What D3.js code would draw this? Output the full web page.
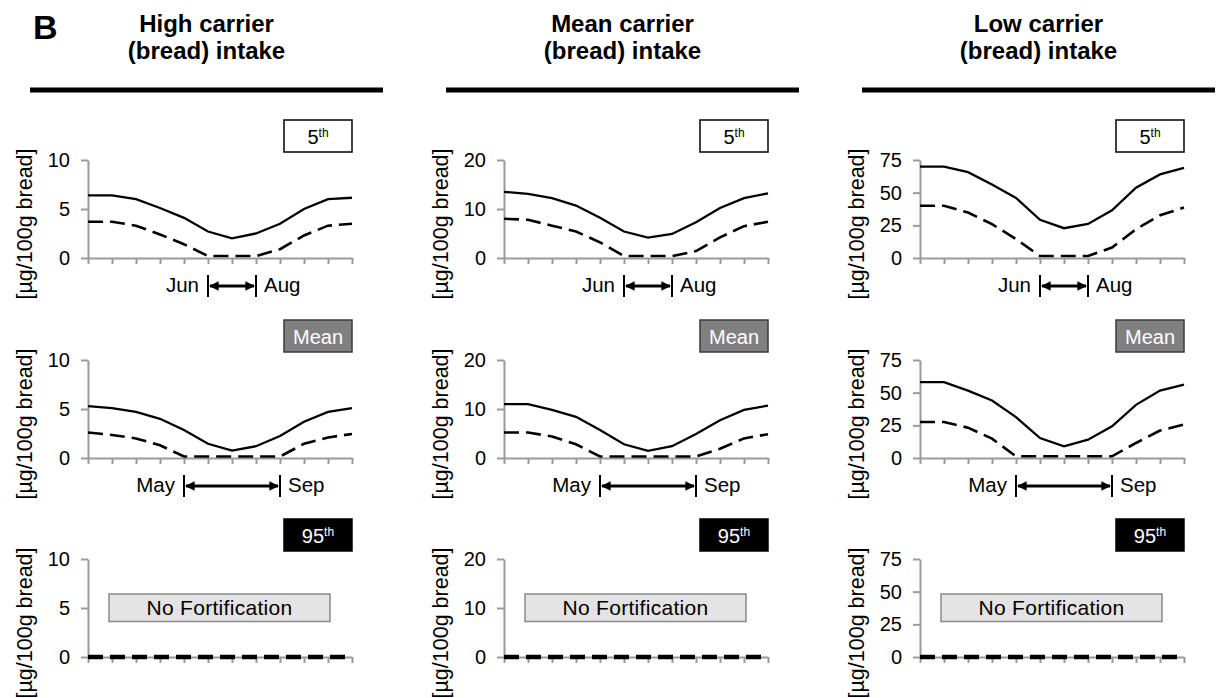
<!DOCTYPE html>
<html>
<head>
<meta charset="utf-8">
<script src="https://d3js.org/d3.v7.min.js"></script>
<style>
  body { margin: 0; background: #fff; }
  svg { display: block; font-family: "Liberation Sans", Arial, sans-serif; }
</style>
</head>
<body>
<div id="chart"></div>
<script>
// months on the x axis
const months = ['Jan', 'Feb', 'Mar', 'Apr', 'May', 'Jun', 'Jul', 'Aug', 'Sep', 'Oct', 'Nov', 'Dec'];

const columnTitles = [['High carrier', '(bread) intake'], ['Mean carrier', '(bread) intake'], ['Low carrier', '(bread) intake']];
const rowLabels = ['5th', 'Mean', '95th'];
const yMax = [10, 20, 75];
const yTicks = [[0, 5, 10], [0, 10, 20], [0, 25, 50, 75]];
const fortWindows = [['Jun', 'Aug'], ['May', 'Sep'], null];

// high carrier intake
const high5Solid = [6.4, 6.4, 6.0, 5.1, 4.1, 2.7, 2.0, 2.5, 3.5, 5.0, 6.0, 6.15];
const high5Dashed = [3.7, 3.7, 3.3, 2.4, 1.4, 0.2, 0.2, 0.2, 0.9, 2.3, 3.3, 3.5];
const highMeanSolid = [5.3, 5.1, 4.7, 4.0, 2.85, 1.45, 0.75, 1.2, 2.25, 3.7, 4.7, 5.1];
const highMeanDashed = [2.6, 2.35, 2.0, 1.3, 0.15, 0.15, 0.15, 0.15, 0.15, 1.45, 2.1, 2.45];
// mean carrier intake
const mean5Solid = [13.5, 13.1, 12.2, 10.7, 8.2, 5.4, 4.15, 4.9, 7.3, 10.2, 12.2, 13.2];
const mean5Dashed = [8.0, 7.8, 6.6, 5.4, 3.2, 0.4, 0.4, 0.4, 1.4, 4.2, 6.5, 7.4];
const meanMeanSolid = [11.0, 11.0, 9.8, 8.4, 5.7, 2.8, 1.45, 2.4, 4.9, 7.7, 9.8, 10.7];
const meanMeanDashed = [5.2, 5.2, 4.4, 2.8, 0.3, 0.3, 0.3, 0.3, 0.3, 1.9, 4.0, 4.85];
// low carrier intake
const low5Solid = [70, 70, 65.7, 56.3, 46, 29.2, 22.8, 26.1, 36.5, 53.8, 64, 69];
const low5Dashed = [40, 40, 34.8, 25.9, 14.5, 1.5, 1.5, 1.5, 8, 22, 32.7, 38.6];
const lowMeanSolid = [58, 58, 51.6, 44, 31.3, 15.3, 8.9, 14, 24.2, 40.7, 51.6, 56.2];
const lowMeanDashed = [27.5, 27.5, 23.2, 14.8, 1.3, 1.3, 1.3, 1.3, 1.3, 11.5, 21, 25.7];
// 95th percentile: no fortification
const noFortification = [0, 0, 0, 0, 0, 0, 0, 0, 0, 0, 0, 0];

const solidSeries = [[high5Solid, highMeanSolid], [mean5Solid, meanMeanSolid], [low5Solid, lowMeanSolid]];
const dashedSeries = [[high5Dashed, highMeanDashed], [mean5Dashed, meanMeanDashed], [low5Dashed, lowMeanDashed]];

const colX = [88, 504, 920];
const rowY = [160, 360, 559];
const plotW = 264, plotH = 98;
const axisGrey = '#9a9a9a';

const svg = d3.select('#chart').append('svg')
  .attr('width', 1218)
  .attr('height', 698);

svg.append('text')
  .attr('x', 33).attr('y', 39)
  .attr('font-size', 34).attr('font-weight', 'bold')
  .text('B');

const x = d3.scalePoint().domain(months).range([0, plotW]);

const defs = svg.append('defs');
defs.append('marker')
  .attr('id', 'head')
  .attr('viewBox', '0 0 10 10')
  .attr('refX', 9).attr('refY', 5)
  .attr('markerWidth', 3.2).attr('markerHeight', 3.2)
  .attr('orient', 'auto-start-reverse')
  .append('path')
  .attr('d', 'M0,0L10,5L0,10z')
  .attr('fill', '#000');

columnTitles.forEach((title, c) => {
  const x0 = colX[c];
  const cx = x0 - 58 + 176.5;

  // column header
  const head = svg.append('text')
    .attr('text-anchor', 'middle')
    .attr('font-size', 24).attr('font-weight', 'bold');
  head.append('tspan').attr('x', cx).attr('y', 31.5).text(title[0]);
  head.append('tspan').attr('x', cx).attr('y', 59).text(title[1]);

  svg.append('line')
    .attr('x1', x0 - 58).attr('x2', x0 + 295)
    .attr('y1', 90).attr('y2', 90)
    .attr('stroke', '#000').attr('stroke-width', 5);

  const y = d3.scaleLinear().domain([0, yMax[c]]).range([plotH, 0]);

  rowLabels.forEach((label, r) => {
    const g = svg.append('g')
      .attr('transform', 'translate(' + x0 + ',' + rowY[r] + ')');

    // percentile box
    const boxFill = ['#fff', '#808080', '#000'][r];
    const boxText = r === 0 ? '#000' : '#fff';
    g.append('rect')
      .attr('x', 196).attr('y', -40)
      .attr('width', 68).attr('height', 32)
      .attr('fill', boxFill)
      .attr('stroke', r === 1 ? '#3a3a3a' : '#000')
      .attr('stroke-width', 1.5);
    const bt = g.append('text')
      .attr('x', 230).attr('y', -16)
      .attr('text-anchor', 'middle')
      .attr('font-size', 20)
      .attr('fill', boxText);
    if (label === 'Mean') {
      bt.text('Mean');
    } else {
      bt.append('tspan').text(label.replace('th', ''));
      bt.append('tspan').attr('font-size', 12).attr('dy', -7).text('th');
    }

    // y axis
    const ya = g.append('g')
      .call(d3.axisLeft(y).tickValues(yTicks[c]).tickSize(7).tickSizeOuter(0).tickPadding(11));
    ya.select('.domain').attr('stroke', axisGrey).attr('stroke-width', 2);
    ya.selectAll('.tick line').attr('stroke', axisGrey).attr('stroke-width', 2);
    ya.selectAll('.tick text')
      .attr('font-size', 20)
      .attr('font-family', '"Liberation Sans", Arial, sans-serif')
      .attr('fill', '#000');

    // x axis
    const xa = g.append('g')
      .attr('transform', 'translate(0,' + plotH + ')')
      .call(d3.axisBottom(x).tickSize(6).tickSizeOuter(0).tickFormat(''));
    xa.select('.domain').attr('stroke', axisGrey).attr('stroke-width', 2);
    xa.selectAll('.tick line').attr('stroke', axisGrey).attr('stroke-width', 2);

    // y title
    g.append('text')
      .attr('transform', 'translate(-63,' + 64 + ') rotate(-90)')
      .attr('text-anchor', 'middle')
      .attr('dominant-baseline', 'central')
      .attr('font-size', 21.5)
      .text('[µg/100g bread]');

    const line = d3.line()
      .x((d, i) => x(months[i]))
      .y(d => y(d));

    if (r < 2) {
      g.append('path')
        .attr('d', line(dashedSeries[c][r]))
        .attr('fill', 'none')
        .attr('stroke', '#000')
        .attr('stroke-width', 2.6)
        .attr('stroke-dasharray', '15,7');
      g.append('path')
        .attr('d', line(solidSeries[c][r]))
        .attr('fill', 'none')
        .attr('stroke', '#000')
        .attr('stroke-width', 2.3);

      // fortification window
      const win = fortWindows[r];
      const xa0 = x(win[0]), xa1 = x(win[1]);
      const ay = plotH + 28;
      g.append('line')
        .attr('x1', xa0).attr('x2', xa0)
        .attr('y1', plotH + 17).attr('y2', plotH + 39)
        .attr('stroke', '#000').attr('stroke-width', 2);
      g.append('line')
        .attr('x1', xa1).attr('x2', xa1)
        .attr('y1', plotH + 17).attr('y2', plotH + 39)
        .attr('stroke', '#000').attr('stroke-width', 2);
      g.append('line')
        .attr('x1', xa0 + 2).attr('x2', xa1 - 2)
        .attr('y1', ay).attr('y2', ay)
        .attr('stroke', '#000').attr('stroke-width', 3)
        .attr('marker-start', 'url(#head)')
        .attr('marker-end', 'url(#head)');
      g.append('text')
        .attr('x', xa0 - 9).attr('y', plotH + 34)
        .attr('text-anchor', 'end')
        .attr('font-size', 20.5)
        .text(win[0]);
      g.append('text')
        .attr('x', xa1 + 8).attr('y', plotH + 34)
        .attr('font-size', 20.5)
        .text(win[1]);
    } else {
      g.append('rect')
        .attr('x', 21).attr('y', 35)
        .attr('width', 221).attr('height', 27.5)
        .attr('fill', '#e3e3e3')
        .attr('stroke', '#8a8a8a')
        .attr('stroke-width', 1.5);
      g.append('text')
        .attr('x', 131.5).attr('y', 56)
        .attr('text-anchor', 'middle')
        .attr('font-size', 21)
        .attr('letter-spacing', 0.3)
        .text('No Fortification');
      g.append('path')
        .attr('d', line(noFortification))
        .attr('fill', 'none')
        .attr('stroke', '#000')
        .attr('stroke-width', 4.5)
        .attr('stroke-dasharray', '15,7');
    }
  });
});
</script>
</body>
</html>
